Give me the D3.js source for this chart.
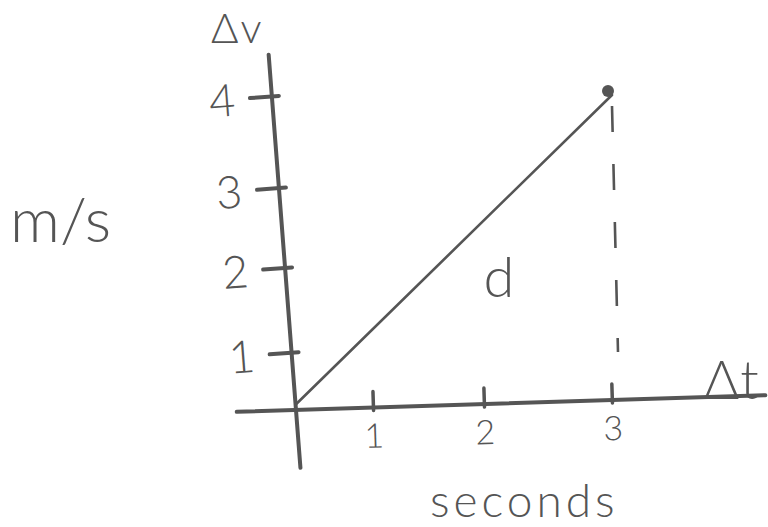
<!DOCTYPE html>
<html>
<head>
<meta charset="utf-8">
<script src="https://cdn.jsdelivr.net/npm/d3@7"></script>
<style>
  html, body { margin: 0; background: #fff; }
  svg { display: block; }
</style>
</head>
<body>
<svg id="chart" width="768" height="527"></svg>
<script>
// Velocity–time graph: constant acceleration from rest, area under the line = distance d
const timeTicks = [1, 2, 3];          // seconds
const velocityTicks = [1, 2, 3, 4];   // m/s
const lineTime = [0, 3];
const lineVelocity = [0.1, 4];
const endTime = [3];
const endVelocity = [4];

const ink = "#555";
const font = "Lato, 'Open Sans', 'DejaVu Sans', sans-serif";
const svg = d3.select("#chart");

// hand-ruled axes: spacing between ticks is not perfectly even
const x = d3.scaleLinear().domain([0, 1, 2, 3]).range([296, 373, 484, 612]);
const y = d3.scaleLinear().domain([0, 1, 2, 3, 4]).range([410, 352, 267, 187, 95]);

const ox = x(0), oy = y(0);

// ---- vertical axis (Δv), leaning slightly ----
const yAxisG = svg.append("g")
  .attr("transform", `rotate(-4.4, ${ox}, ${oy}) translate(${ox},0)`);

yAxisG.append("line")
  .attr("x1", 0).attr("x2", 0)
  .attr("y1", y(4.45)).attr("y2", y(-1.0))
  .attr("stroke", ink).attr("stroke-width", 4).attr("stroke-linecap", "round");

yAxisG.call(d3.axisLeft(y).tickValues(velocityTicks).tickSize(22).tickFormat(d3.format("d")));
yAxisG.select(".domain").remove();
yAxisG.selectAll(".tick line")
  .attr("x1", -22).attr("x2", 7)
  .attr("stroke", ink).attr("stroke-width", 4).attr("stroke-linecap", "round");
yAxisG.selectAll(".tick text")
  .attr("x", -50).attr("dy", "0.36em")
  .attr("text-anchor", "middle")
  .attr("fill", ink)
  .style("font-family", font).style("font-weight", 300).style("font-size", "45px");

// ---- horizontal axis (Δt), rising slightly to the right ----
const xAxisG = svg.append("g")
  .attr("transform", `rotate(-1.8, ${ox}, ${oy}) translate(0,${oy})`);

xAxisG.append("line")
  .attr("x1", x(-0.77)).attr("x2", x(4.2))
  .attr("y1", 0).attr("y2", 0)
  .attr("stroke", ink).attr("stroke-width", 4).attr("stroke-linecap", "round");

xAxisG.call(d3.axisBottom(x).tickValues(timeTicks).tickSize(16).tickFormat(d3.format("d")));
xAxisG.select(".domain").remove();
xAxisG.selectAll(".tick line")
  .attr("y1", -16).attr("y2", 3)
  .attr("stroke", ink).attr("stroke-width", 3.5).attr("stroke-linecap", "round");
xAxisG.selectAll(".tick text")
  .attr("y", 28).attr("dy", "0.36em")
  .attr("text-anchor", "middle")
  .attr("fill", ink)
  .style("font-family", font).style("font-weight", 300).style("font-size", "34px");

// ---- the velocity line ----
const pts = lineTime.map((t, i) => [t, lineVelocity[i]]);
svg.append("path")
  .datum(pts)
  .attr("d", d3.line().x(d => x(d[0])).y(d => y(d[1])))
  .attr("fill", "none")
  .attr("stroke", ink).attr("stroke-width", 2.6).attr("stroke-linecap", "round");

// dashed drop line from the end point
svg.append("line")
  .attr("x1", x(endTime[0])).attr("x2", x(endTime[0]) + 6)
  .attr("y1", y(3.88)).attr("y2", y(1.0))
  .attr("stroke", ink).attr("stroke-width", 2.6)
  .attr("stroke-dasharray", "26 32");

// end point
svg.selectAll("circle.end")
  .data(endTime.map((t, i) => [t, endVelocity[i]]))
  .join("circle")
  .attr("class", "end")
  .attr("cx", d => x(d[0]) - 4).attr("cy", d => y(d[1]) - 4)
  .attr("r", 6)
  .attr("fill", ink);

// ---- labels ----
function label(txt, px, py, size, anchor = "start", spacing = 0) {
  svg.append("text")
    .attr("x", px).attr("y", py)
    .attr("text-anchor", anchor)
    .attr("fill", ink)
    .style("font-family", font).style("font-weight", 300).style("font-size", size + "px")
    .style("letter-spacing", spacing + "px")
    .text(txt);
}

label("Δv", 211, 43, 42, "start", 2);
label("Δt", 704, 399, 54, "start", 1);
label("m/s", 10, 242, 62);
label("d", 499, 297, 56, "middle");
label("seconds", 430, 517, 46, "start", 4);
</script>
</body>
</html>
